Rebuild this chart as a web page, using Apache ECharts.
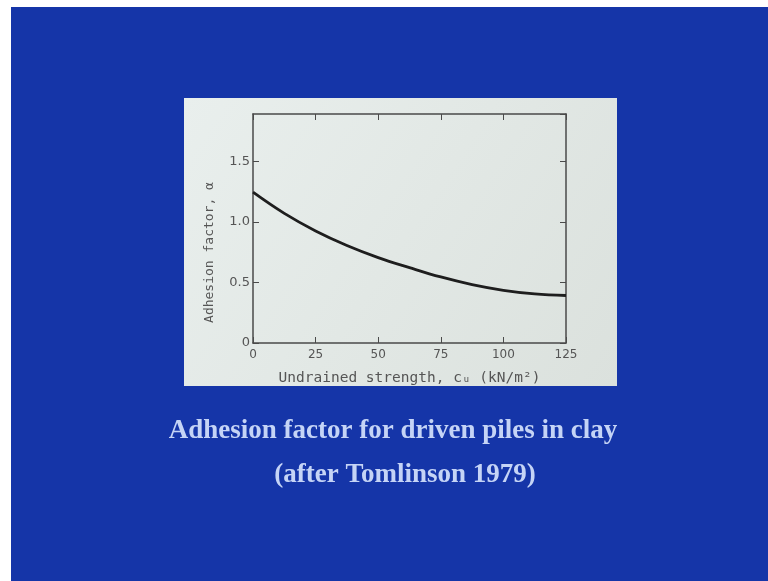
<!DOCTYPE html>
<html>
<head>
<meta charset="utf-8">
<script src="https://cdn.jsdelivr.net/npm/echarts@6/dist/echarts.min.js"></script>
<style>
  html, body { margin: 0; padding: 0; background: #fff; }
  #chart { width: 768px; height: 581px; }
</style>
</head>
<body>
<div id="chart"></div>
<script>
// Adhesion factor vs undrained strength (Tomlinson 1979)
const strengthKPa = [0, 12.5, 25, 37.5, 50, 62.5, 75, 87.5, 100, 112.5, 125];
const adhesionFactor = [1.245, 1.07, 0.925, 0.805, 0.705, 0.622, 0.545, 0.482, 0.435, 0.405, 0.392];

const xTicks = [0, 25, 50, 75, 100, 125];
const yTickLabels = { 0: '0', 0.5: '0.5', 1: '1.0', 1.5: '1.5' };

const captionLines = ['Adhesion factor for driven piles in clay', '(after Tomlinson 1979)'];

const chart = echarts.init(document.getElementById('chart'));

const axisInk = '#4a4a4a';
const labelInk = '#555555';

const option = {
  backgroundColor: '#1535a8',
  animation: false,
  graphic: [
    // white scan borders on the left and top
    { type: 'rect', left: 0, top: 0, shape: { width: 11, height: 581 }, style: { fill: '#ffffff' }, z: -1 },
    { type: 'rect', left: 0, top: 0, shape: { width: 768, height: 7 }, style: { fill: '#ffffff' }, z: -1 },
    // light panel the figure sits on
    {
      type: 'rect', left: 184, top: 98, shape: { width: 433, height: 288 },
      style: {
        fill: new echarts.graphic.LinearGradient(0, 0, 1, 1, [
          { offset: 0, color: '#e9efed' },
          { offset: 1, color: '#dbe1dd' }
        ])
      },
      z: -1
    }
  ],
  title: [
    {
      text: captionLines[0],
      left: 388, top: 413, textAlign: 'center',
      textStyle: { fontFamily: 'Liberation Serif', fontSize: 27, fontWeight: 'bold', color: '#c5d4f6' }
    },
    {
      text: captionLines[1],
      left: 400, top: 457, textAlign: 'center',
      textStyle: { fontFamily: 'Liberation Serif', fontSize: 27, fontWeight: 'bold', color: '#c5d4f6' }
    }
  ],
  grid: { left: 253, right: 202, top: 114, bottom: 238 },
  xAxis: [
    {
      type: 'value', min: 0, max: 125, interval: 25,
      name: 'Undrained strength, c\u1d64 (kN/m\u00b2)',
      nameLocation: 'middle', nameGap: 28,
      nameTextStyle: { fontFamily: 'DejaVu Sans Mono', fontSize: 14.5, color: labelInk },
      axisLine: { show: true, onZero: false, lineStyle: { color: axisInk, width: 1.5 } },
      axisTick: { show: true, inside: true, length: 6, lineStyle: { color: axisInk } },
      axisLabel: {
        margin: 6, color: labelInk, fontFamily: 'DejaVu Sans', fontSize: 12,
        formatter: v => (xTicks.includes(v) ? String(v) : '')
      },
      splitLine: { show: false }
    },
    {
      type: 'value', position: 'top', min: 0, max: 125, interval: 25,
      axisLine: { show: true, onZero: false, lineStyle: { color: axisInk, width: 1.5 } },
      axisTick: { show: true, inside: true, length: 6, lineStyle: { color: axisInk } },
      axisLabel: { show: false },
      splitLine: { show: false }
    }
  ],
  yAxis: [
    {
      type: 'value', min: 0, max: 1.89, interval: 0.5,
      name: 'Adhesion factor, \u03b1',
      nameLocation: 'middle', nameGap: 37, nameRotate: 90,
      nameTextStyle: { fontFamily: 'DejaVu Sans Mono', fontSize: 13, color: labelInk, padding: [0, 48, 0, 0] },
      axisLine: { show: true, onZero: false, lineStyle: { color: axisInk, width: 1.5 } },
      axisTick: { show: true, inside: true, length: 6, lineStyle: { color: axisInk } },
      axisLabel: {
        margin: 3, color: labelInk, fontFamily: 'DejaVu Sans', fontSize: 13,
        showMaxLabel: false,
        formatter: v => (yTickLabels[v] !== undefined ? yTickLabels[v] : '')
      },
      splitLine: { show: false }
    },
    {
      type: 'value', position: 'right', min: 0, max: 1.89, interval: 0.5,
      axisLine: { show: true, onZero: false, lineStyle: { color: axisInk, width: 1.5 } },
      axisTick: { show: true, inside: true, length: 6, lineStyle: { color: axisInk } },
      axisLabel: { show: false },
      splitLine: { show: false }
    }
  ],
  series: [
    {
      type: 'line',
      data: strengthKPa.map((x, i) => [x, adhesionFactor[i]]),
      smooth: 0.4,
      symbol: 'none',
      lineStyle: { color: '#1e1e1e', width: 2.8 }
    }
  ]
};

chart.setOption(option);
</script>
</body>
</html>
